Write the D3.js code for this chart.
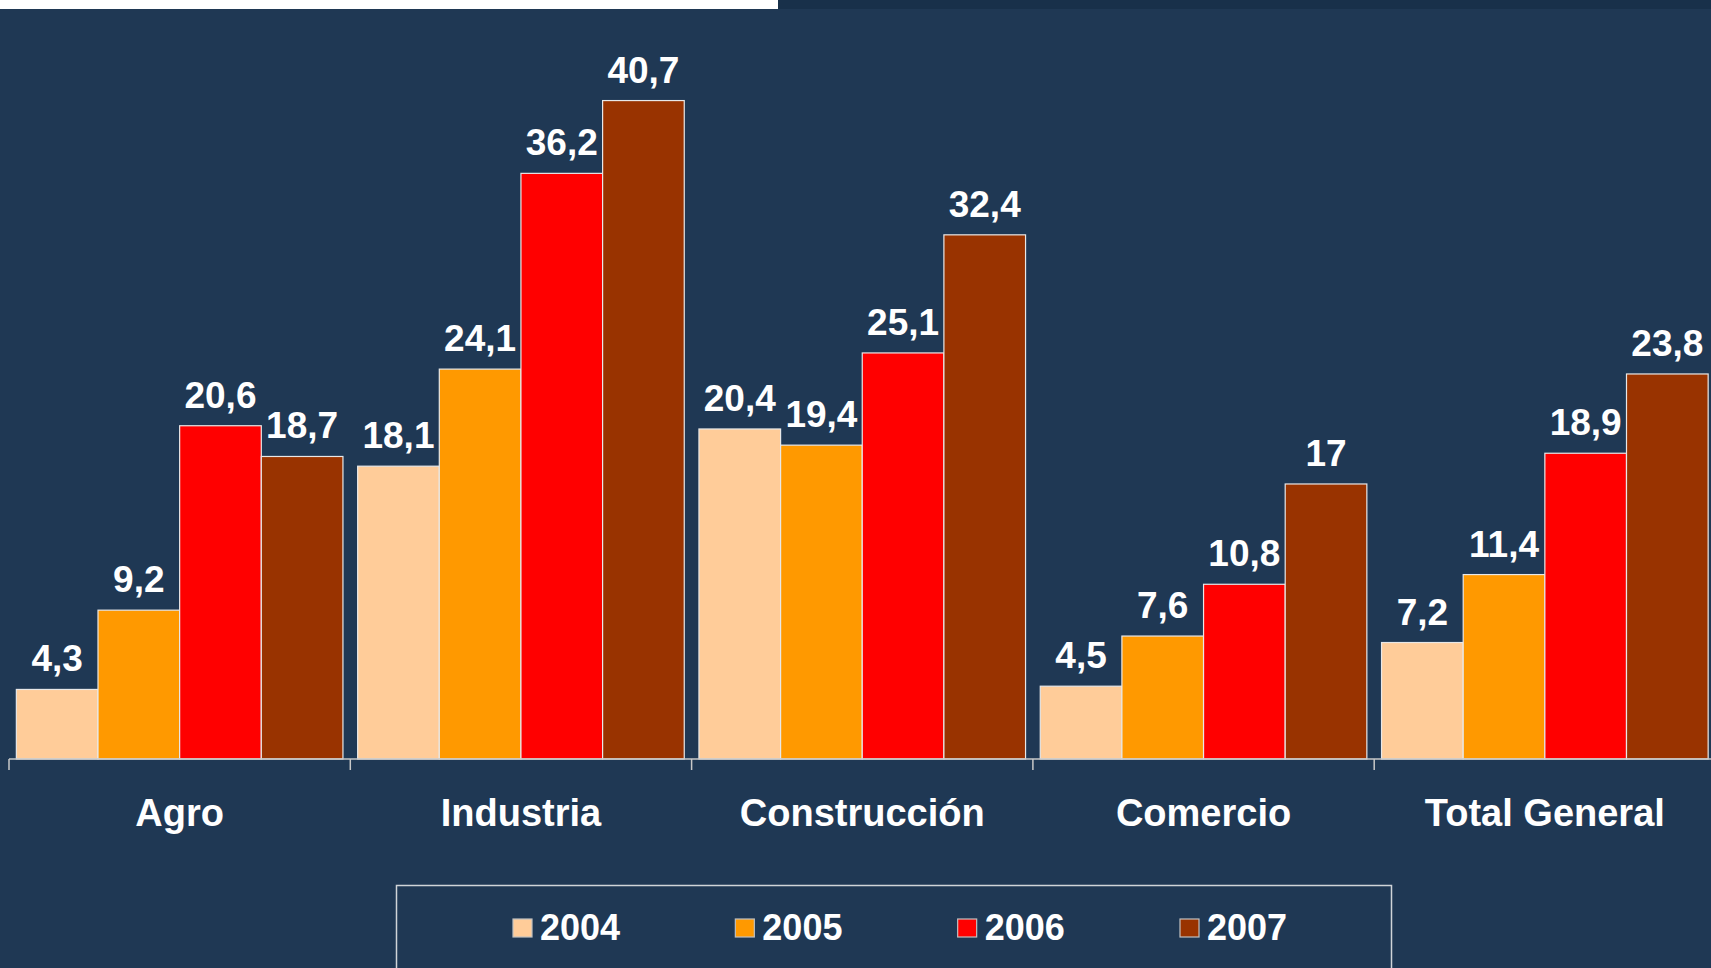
<!DOCTYPE html>
<html>
<head>
<meta charset="utf-8">
<script src="https://cdn.jsdelivr.net/npm/d3@7"></script>
<style>
  html, body { margin: 0; padding: 0; background: #1f3854; overflow: hidden; }
  svg { display: block; font-family: 'Liberation Sans', Arial, sans-serif; }
</style>
</head>
<body>
<svg id="chart" width="1711" height="968"></svg>
<script>
const categories = ['Agro', 'Industria', 'Construcción', 'Comercio', 'Total General']
const years = ['2004', '2005', '2006', '2007']
const values2004 = [4.3, 18.1, 20.4, 4.5, 7.2]
const values2005 = [9.2, 24.1, 19.4, 7.6, 11.4]
const values2006 = [20.6, 36.2, 25.1, 10.8, 18.9]
const values2007 = [18.7, 40.7, 32.4, 17, 23.8]
const colors = ['#ffcc99', '#ff9900', '#ff0000', '#993300']

const seriesByYear = [values2004, values2005, values2006, values2007]
const fmt = v => String(v).replace('.', ',')

const width = 1711, height = 968
const baseline = 759

const svg = d3.select('#chart')

svg.append('rect')
  .attr('width', width).attr('height', height)
  .attr('fill', '#1f3854')

// strip along the top edge
svg.append('rect')
  .attr('x', 0).attr('y', 0).attr('width', 778).attr('height', 9)
  .attr('fill', '#ffffff')
svg.append('rect')
  .attr('x', 778).attr('y', 0).attr('width', width - 778).attr('height', 9)
  .attr('fill', '#18304a')

const x0 = d3.scaleBand()
  .domain(categories)
  .range([9, 9 + 5 * 341.3])

const x1 = d3.scaleBand()
  .domain(years)
  .range([0, x0.bandwidth()])
  .paddingOuter(0.09)

const y = d3.scaleLinear()
  .domain([0, 45])
  .range([baseline, 31])

const groups = svg.append('g').attr('class', 'bars')
  .selectAll('g')
  .data(categories)
  .join('g')
    .attr('transform', d => `translate(${x0(d)},0)`)

const barData = (c, ci) => years.map((yr, yi) => ({ year: yr, value: seriesByYear[yi][ci], color: colors[yi] }))

groups.each(function(c, ci) {
  const g = d3.select(this)
  const data = barData(c, ci)

  g.selectAll('rect')
    .data(data)
    .join('rect')
      .attr('x', d => x1(d.year))
      .attr('y', d => y(d.value))
      .attr('width', x1.bandwidth())
      .attr('height', d => baseline - y(d.value))
      .attr('fill', d => d.color)
      .attr('stroke', '#e8e8e8')
      .attr('stroke-width', 1.2)

  g.selectAll('text.value')
    .data(data)
    .join('text')
      .attr('class', 'value')
      .attr('x', d => x1(d.year) + x1.bandwidth() / 2)
      .attr('y', d => y(d.value) - 18)
      .attr('text-anchor', 'middle')
      .attr('fill', '#ffffff')
      .attr('font-size', 37)
      .attr('font-weight', 'bold')
      .text(d => fmt(d.value))
})

// category axis
const axis = svg.append('g').attr('class', 'axis')
const [r0, r1] = x0.range()
axis.append('line')
  .attr('x1', r0).attr('x2', r1)
  .attr('y1', baseline).attr('y2', baseline)
  .attr('stroke', '#c8c8c8').attr('stroke-width', 1.5)

axis.selectAll('line.tick')
  .data(categories.map(c => x0(c)).concat([r1]))
  .join('line')
    .attr('class', 'tick')
    .attr('x1', d => d).attr('x2', d => d)
    .attr('y1', baseline).attr('y2', baseline + 11)
    .attr('stroke', '#c8c8c8').attr('stroke-width', 1.5)

axis.selectAll('text')
  .data(categories)
  .join('text')
    .attr('x', d => x0(d) + x0.bandwidth() / 2)
    .attr('y', 826)
    .attr('text-anchor', 'middle')
    .attr('fill', '#ffffff')
    .attr('font-size', 38)
    .attr('font-weight', 'bold')
    .text(d => d)

// legend
const legend = svg.append('g').attr('class', 'legend')
legend.append('rect')
  .attr('x', 396.5).attr('y', 885.5)
  .attr('width', 995).attr('height', 120)
  .attr('fill', 'none')
  .attr('stroke', '#d0d4d8').attr('stroke-width', 1.5)

const legendX = d3.scalePoint().domain(years).range([513, 1180])

const items = legend.selectAll('g.item')
  .data(years)
  .join('g')
    .attr('class', 'item')
    .attr('transform', d => `translate(${legendX(d)},919)`)

items.append('rect')
  .attr('width', 19).attr('height', 18)
  .attr('fill', (d, i) => colors[i])
  .attr('stroke', '#c0c0c0').attr('stroke-width', 1.2)

items.append('text')
  .attr('x', 27).attr('y', 21)
  .attr('fill', '#ffffff')
  .attr('font-size', 36)
  .attr('font-weight', 'bold')
  .text(d => d)
</script>
</body>
</html>
